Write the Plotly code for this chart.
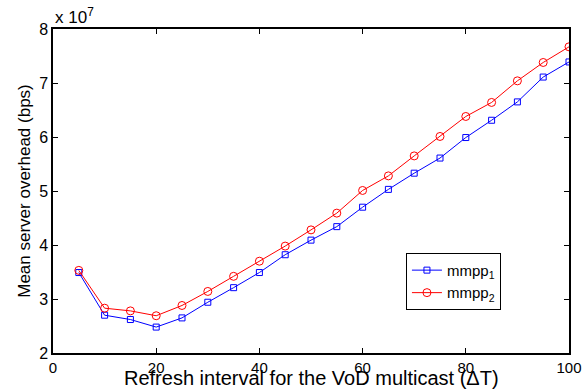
import plotly.graph_objects as go

x_vals = [5, 10, 15, 20, 25, 30, 35, 40, 45, 50, 55, 60, 65, 70, 75, 80, 85, 90, 95, 100]
mmpp1 = [3.49, 2.70, 2.62, 2.48, 2.65, 2.94, 3.21, 3.49, 3.82, 4.09, 4.34, 4.70, 5.03, 5.33, 5.61, 5.99, 6.31, 6.65, 7.11, 7.39]
mmpp2 = [3.53, 2.83, 2.78, 2.69, 2.88, 3.14, 3.42, 3.70, 3.98, 4.28, 4.59, 5.01, 5.28, 5.65, 6.01, 6.38, 6.64, 7.04, 7.38, 7.67]
x_ticks = [0, 20, 40, 60, 80, 100]
y_ticks = [2, 3, 4, 5, 6, 7, 8]

FONT = "Liberation Sans, Arial, sans-serif"

fig = go.Figure()
fig.add_trace(go.Scatter(
    x=x_vals, y=mmpp1, mode="lines+markers", name="mmpp<sub>1</sub>",
    line=dict(color="#0000ff", width=1),
    marker=dict(symbol="square-open", size=6, color="#0000ff", line=dict(width=1)),
))
fig.add_trace(go.Scatter(
    x=x_vals, y=mmpp2, mode="lines+markers", name="mmpp<sub>2</sub>",
    line=dict(color="#ff0000", width=1),
    marker=dict(symbol="circle-open", size=8, color="#ff0000", line=dict(width=1)),
))

axis_common = dict(
    showgrid=False, zeroline=False, showline=True, linecolor="black", linewidth=1.5,
    mirror="allticks", ticks="inside", ticklen=5, tickcolor="black", automargin=False,
)
fig.update_xaxes(range=[0, 100], tickvals=x_ticks,
                 tickfont=dict(family=FONT, size=15, color="black"),
                 **axis_common)
fig.update_yaxes(range=[2, 8], tickvals=y_ticks,
                 tickfont=dict(family=FONT, size=16, color="black"),
                 title=dict(text="Mean server overhead (bps)",
                            font=dict(family=FONT, size=17, color="black"), standoff=4),
                 **axis_common)

fig.add_annotation(text="Refresh interval for the VoD multicast (ΔT)",
                   xref="paper", yref="paper", x=0.5, y=0, xanchor="center", yanchor="bottom",
                   yshift=-38, showarrow=False,
                   font=dict(family=FONT, size=20, color="black"))

fig.add_annotation(text="x 10<sup>7</sup>", xref="paper", yref="paper", x=0.0, y=1.0,
                   xanchor="left", yanchor="bottom", showarrow=False, yshift=0,
                   font=dict(family=FONT, size=17, color="black"))

fig.update_layout(
    width=584, height=389,
    margin=dict(l=53, r=15, t=29, b=36),
    paper_bgcolor="white", plot_bgcolor="white",
    showlegend=True,
    legend=dict(x=0.684, y=0.309, xanchor="left", yanchor="top",
                bgcolor="white", bordercolor="black", borderwidth=1,
                font=dict(family=FONT, size=15, color="black"),
                tracegroupgap=0, itemwidth=30),
)

fig.write_html("out.html")
